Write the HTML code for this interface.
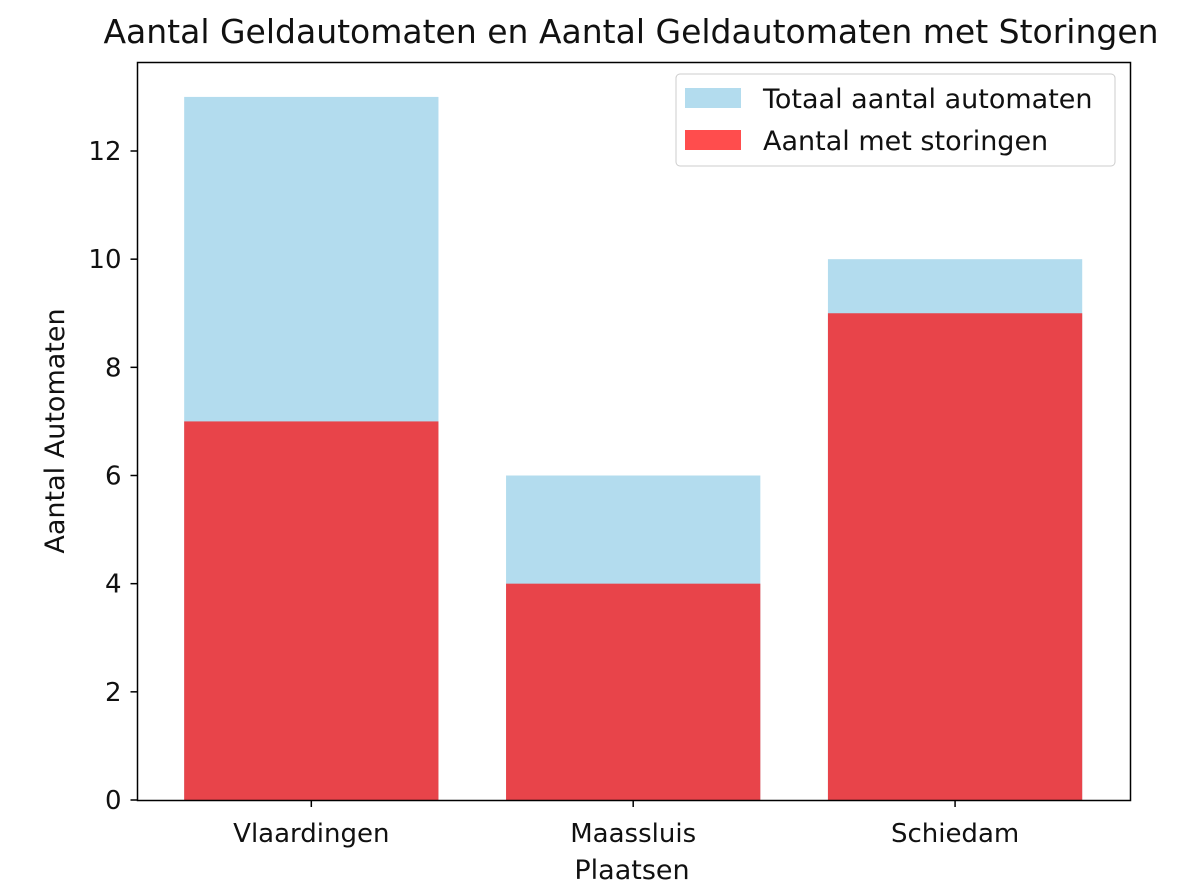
<!DOCTYPE html>
<html><head><meta charset="utf-8"><style>
body{margin:0;background:#fff}
svg{display:block;font-family:"DejaVu Sans","Liberation Sans",sans-serif}
</style></head><body>
<svg id="chart" width="1188" height="891">
<text x="631" y="43" font-size="33" text-anchor="middle" fill="#111">Aantal Geldautomaten en Aantal Geldautomaten met Storingen</text>
<g id="bars"></g>
<g id="yticks"></g>
<g id="xticks"></g>
<rect x="137.5" y="62.5" width="993" height="738" fill="none" stroke="#000" stroke-width="1.5"/>
<text x="632" y="879" font-size="27" text-anchor="middle" fill="#111">Plaatsen</text>
<text transform="translate(64,431) rotate(-90)" font-size="27" text-anchor="middle" fill="#111">Aantal Automaten</text>
<g>
<rect x="676" y="74" width="439" height="92" rx="4" fill="#fff" stroke="#ccc"/>
<rect x="685" y="88" width="56" height="20" fill="#b3dcee"/>
<text x="763" y="108" font-size="27" fill="#111">Totaal aantal automaten</text>
<rect x="685" y="130" width="56" height="20" fill="#ff4d4d"/>
<text x="763" y="150" font-size="27" fill="#111">Aantal met storingen</text>
</g>
</svg>
<script>
const categories=["Vlaardingen","Maassluis","Schiedam"];
const totals=[13,6,10];
const storingen=[7,4,9];
const yTicks=[0,2,4,6,8,10,12];
const NS="http://www.w3.org/2000/svg";
const x0=137.5,x1=1130.5,xmin=-0.54,xmax=2.545;
const yBase=800,unit=(800-151)/12;
const X=v=>x0+(v-xmin)/(xmax-xmin)*(x1-x0);
const Y=v=>yBase-v*unit;
const bw=0.79;
function mk(tag,attrs,parent){const e=document.createElementNS(NS,tag);for(const k in attrs)e.setAttribute(k,attrs[k]);parent.appendChild(e);return e;}
const bars=document.getElementById('bars');
categories.forEach((c,i)=>{
  let r=mk('rect',{x:X(i-bw/2),y:Y(totals[i]),width:X(i+bw/2)-X(i-bw/2),height:Y(0)-Y(totals[i]),fill:'#b3dcee'},bars);
  
  
  let s=mk('rect',{x:X(i-bw/2),y:Y(storingen[i]),width:X(i+bw/2)-X(i-bw/2),height:Y(0)-Y(storingen[i]),fill:'#e8444a'},bars);
  
  
});
const yt=document.getElementById('yticks');
yTicks.forEach(t=>{
  let l=mk('line',{x1:x0-7,x2:x0,y1:Y(t),y2:Y(t),stroke:'#000','stroke-width':1.5},yt);
  
  
  let tx=mk('text',{x:x0-16,y:Y(t)+9,'font-size':26,'text-anchor':'end',fill:'#111'},yt);
  tx.textContent=t;
  
  
});
const xt=document.getElementById('xticks');
categories.forEach((c,i)=>{
  let l=mk('line',{x1:X(i),x2:X(i),y1:800,y2:807,stroke:'#000','stroke-width':1.5},xt);
  
  
  let tx=mk('text',{x:X(i),y:842,'font-size':26,'text-anchor':'middle',fill:'#111'},xt);
  tx.textContent=c;
  
  
});
</script>
</body></html>
